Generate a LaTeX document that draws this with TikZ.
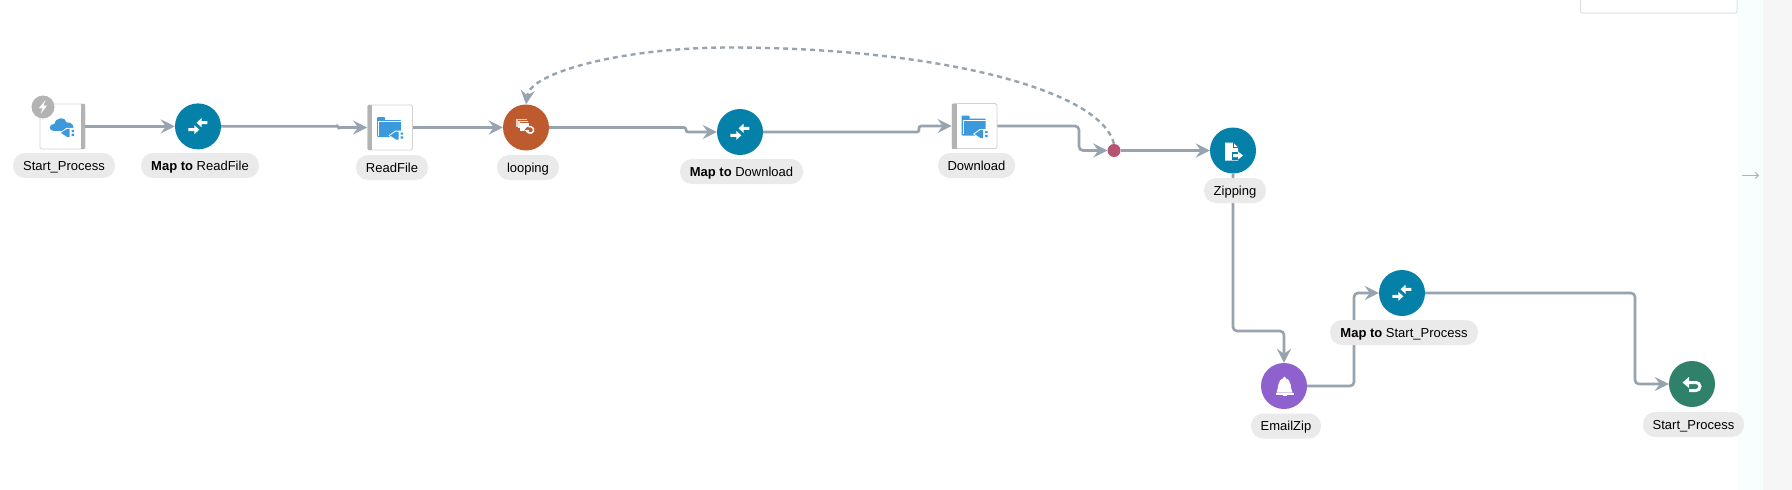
\documentclass[tikz,border=0pt]{standalone}
\usepackage{fontspec}
\setmainfont{Liberation Sans}
\usetikzlibrary{arrows.meta}
\definecolor{edgec}{HTML}{97A3AF}
\definecolor{tealc}{HTML}{0580A9}
\definecolor{orangec}{HTML}{BD5A2E}
\definecolor{purplec}{HTML}{8E61CF}
\definecolor{greenc}{HTML}{2F8169}
\definecolor{dotc}{HTML}{B5546F}
\definecolor{pillc}{HTML}{EAEAEA}
\definecolor{iconc}{HTML}{3B99DC}
\definecolor{barc}{HTML}{B3B3B3}
\definecolor{framec}{HTML}{D2D2D2}
\definecolor{stripc}{HTML}{F8FEFE}
\definecolor{sidec}{HTML}{F6F6F6}
\definecolor{panelc}{HTML}{DDE0E2}
\tikzset{
  stepnode/.style={circle,minimum size=46pt,inner sep=0pt},
  boxnode/.style={rectangle,rounded corners=1.5pt,draw=framec,line width=0.8pt,fill=white,minimum width=45pt,minimum height=45pt,inner sep=0pt},
  pill/.style={rectangle,rounded corners=12pt,fill=pillc,text=black,minimum height=25pt,inner sep=0pt,text height=11pt,text depth=2pt,font=\fontsize{13}{16}\selectfont},
  conn/.style={draw=edgec,line width=2.6pt,rounded corners=4pt},
  arrowc/.style={conn,-{Stealth[length=14pt,width=14pt,inset=5pt]}},
  loopc/.style={draw=edgec,line width=2.4pt,dash pattern=on 5pt off 4pt,-{Stealth[length=14pt,width=14pt,inset=5pt]}},
  dotnode/.style={circle,fill=dotc,minimum size=13pt,inner sep=0pt},
  badge/.style={circle,fill=barc,minimum size=23pt,inner sep=0pt},
}
\newcommand{\mergeicon}[1]{%
  \begin{scope}[shift={(#1)}]
    \fill[white] (9.3,-5.2) -- (3.5,-5.2) -- (3.5,-8.2) -- (-1.5,-3.7) -- (3.5,0.8) -- (3.5,-2.2) -- (9.3,-2.2) -- cycle;
    \fill[white] (-9.7,1.8) -- (-3.7,1.8) -- (-3.7,-1.2) -- (1.3,3.3) -- (-3.7,7.8) -- (-3.7,4.8) -- (-9.7,4.8) -- cycle;
  \end{scope}}
\newcommand{\plugicon}[1]{%
  \begin{scope}[shift={(#1)}]
    \fill[white] (-9,0) -- (-2,-5) -- (7,-5) -- (7,5) -- (-2,5) -- cycle;
    \fill[iconc] (-7.5,0) -- (-1.5,-4) -- (1,-4) -- (1,4) -- (-1.5,4) -- cycle;
    \fill[iconc] (3,-3) rectangle (5.5,-0.8) (3,0.8) rectangle (5.5,3);
  \end{scope}}
\newcommand{\foldericon}[1]{%
  \begin{scope}[shift={(#1)}]
    \fill[iconc,rounded corners=1pt] (-13,-10.5) rectangle (-5,-6);
    \fill[iconc,rounded corners=1pt] (-13,-7.5) rectangle (11,9.5);
    \draw[white,line width=0.7pt] (-12,-6) -- (11,-6) (-11.5,-6) -- (-11.5,8);
    \plugicon{7.5,8}
  \end{scope}}
\begin{document}
\begin{tikzpicture}[x=1pt,y=-1pt]
\useasboundingbox (0,0) rectangle (1792,490);
% page backgrounds
\fill[white] (0,0) rectangle (1737,490);
\fill[stripc] (1737,0) rectangle (1763,490);
\fill[sidec] (1763,0) rectangle (1792,490);
\draw[panelc,line width=1pt,rounded corners=2pt] (1580.5,-6) -- (1580.5,13) -- (1737,13) -- (1737,-6);
\coordinate (pa) at (1742,175.5);
\coordinate (pb) at (1759,175.5);
\draw[barc,line width=0.9pt,-{Straight Barb[length=3pt,width=6pt]}] (pa) -- (pb);

% steps
\node[boxnode] (sp) at (62.5,126.4) {};
\fill[barc] (80.5,103.9) rectangle (85,148.9);
\node[stepnode,fill=tealc] (mr) at (198,126.4) {};
\node[boxnode] (rf) at (390,127.5) {};
\fill[barc] (367.5,105) rectangle (372,150);
\node[stepnode,fill=orangec] (lp) at (526,127.5) {};
\node[stepnode,fill=tealc] (md) at (740,132) {};
\node[boxnode] (dl) at (974.5,126) {};
\fill[barc] (952,103.5) rectangle (956.5,148.5);
\node[dotnode] (jn) at (1114,150.5) {};
\node[stepnode,fill=tealc] (zp) at (1233,150.5) {};
\node[stepnode,fill=purplec] (em) at (1284,386) {};
\node[stepnode,fill=tealc] (ms) at (1402,293) {};
\node[stepnode,fill=greenc] (rt) at (1692,384) {};

% connectors
\draw[arrowc,rounded corners=0.7pt] (mr.east) -- (338,126.4) -- (338,127.5) -- (rf.west);
\draw[arrowc] (sp.east) -- (mr.west);
\draw[arrowc] (rf.east) -- (lp.west);
\draw[arrowc,rounded corners=2pt] (lp.east) -- (686,127.5) -- (686,132) -- (md.west);
\draw[arrowc,rounded corners=2pt] (md.east) -- (919,132) -- (919,126) -- (dl.west);
\draw[arrowc] (dl.east) -- (1079,126) -- (1079,150.5) -- (jn.west);
\draw[arrowc] (jn.east) -- (zp.west);
\draw[arrowc] (zp.south) -- (1233,331) -- (1284,331) -- (em.north);
\draw[arrowc] (em.east) -- (1354,386) -- (1354,293) -- (ms.west);
\draw[arrowc] (ms.east) -- (1635,293) -- (1635,384) -- (rt.west);
\draw[loopc] (jn.north) .. controls (1100,88) and (930,47.5) .. (729,47.5)
  .. controls (625,47.5) and (530,72) .. (lp.north);

% labels
\node[pill,minimum width=102pt] (l1) at (64,165.5) {Start\_Process};
\node[pill,minimum width=118pt] (l2) at (200,165.5) {\textbf{Map to} ReadFile};
\node[pill,minimum width=72pt] (l3) at (392,167.5) {ReadFile};
\node[pill,minimum width=62pt] (l4) at (528,167.5) {looping};
\node[pill,minimum width=123pt] (l5) at (741.5,171.5) {\textbf{Map to} Download};
\node[pill,minimum width=77pt] (l6) at (976.5,165.5) {Download};
\node[pill,minimum width=62pt] (l7) at (1235,190.5) {Zipping};
\node[pill,minimum width=70pt] (l8) at (1286,426) {EmailZip};
\node[pill,minimum width=148pt] (l9) at (1404,332.5) {\textbf{Map to} Start\_Process};
\node[pill,minimum width=101pt] (l10) at (1693.5,424.5) {Start\_Process};

% icons
\begin{scope}[shift={(sp.center)}]
  \fill[iconc] (-9,4.5) .. controls (-14,4.5) and (-14,-2.5) .. (-8,-2.5)
     .. controls (-7,-9.5) and (3,-10) .. (4,-4) .. controls (9,-5) and (13,0) .. (10,4.5) -- cycle;
  \plugicon{6,6.5}
\end{scope}
\node[badge] (bg) at (43,107) {};
\begin{scope}[shift={(bg.center)}]
  \fill[white] (2.5,-7) -- (-4,1) -- (-0.5,1) -- (-2.5,7) -- (4,-1.5) -- (0.5,-1.5) -- cycle;
\end{scope}
\mergeicon{198,126.4}
\mergeicon{740,132}
\mergeicon{1402,293}
\foldericon{390,127.5}
\foldericon{974.5,126}
% loop icon
\begin{scope}[shift={(lp.center)}]
  \fill[white!70!orangec] (-9.7,-8.7) rectangle (1,-1);
  \fill[orangec] (-8.2,-7.2) rectangle (2,0);
  \fill[white!85!orangec] (-7.7,-6.7) rectangle (2.2,0.5);
  \fill[orangec] (-6.2,-5.2) rectangle (3,3);
  \fill[white] (-5.7,-4.7) rectangle (2.7,3.5);
  \fill[orangec] (4.3,4.7) circle (6);
  \draw[white,line width=1.5pt] (1.1,3.5) arc[start angle=160,end angle=-120,radius=3.4];
  \fill[white] (-1,2.6) -- (3.2,2.6) -- (1.1,5.6) -- cycle;
\end{scope}
% document icon
\begin{scope}[shift={(zp.center)}]
  \fill[white] (-8,-8) -- (0,-8) -- (5,-3) -- (5,10) -- (-8,10) -- cycle;
  \draw[tealc,line width=0.6pt] (0,-8) -- (0,-3) -- (5,-3);
  \fill[tealc] (-1,1) rectangle (11,9);
  \fill[white] (0,3.5) -- (5,3.5) -- (5,1) -- (10,5) -- (5,9) -- (5,6.5) -- (0,6.5) -- cycle;
\end{scope}
% bell icon
\begin{scope}[shift={(em.center)}]
  \fill[white] (-7.5,6.5) .. controls (-5,3) and (-7.5,-7.5) .. (0.5,-7.5) .. controls (8.5,-7.5) and (6,3) .. (8.5,6.5) -- cycle;
  \fill[white] (0.5,-7.5) circle (1.8);
  \fill[white] (-8.5,7) rectangle (9.5,8.5);
  \fill[white] (-1.5,8.5) rectangle (2.5,9.7);
\end{scope}
% return icon
\begin{scope}[shift={(rt.center)}]
  \draw[white,line width=3pt] (-4,-1.5) -- (4,-1.5) arc[start angle=-90,end angle=90,radius=4] -- (-3,6.5);
  \fill[white] (-9.5,-1.5) -- (-3,-7) -- (-3,4) -- cycle;
\end{scope}
\end{tikzpicture}
\end{document}
